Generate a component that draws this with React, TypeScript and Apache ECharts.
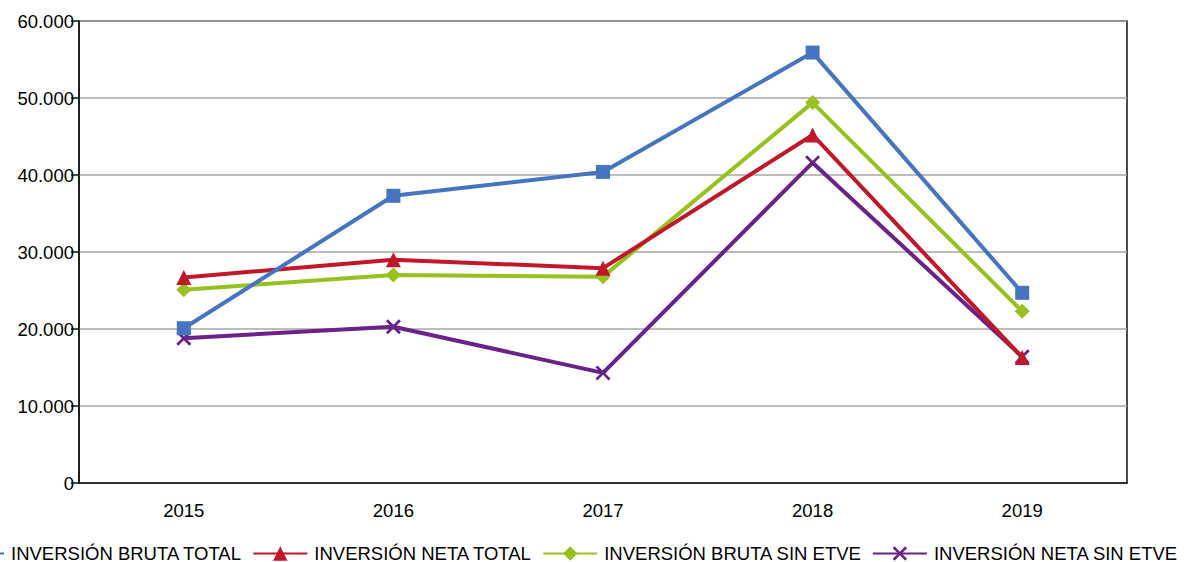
import React, { useEffect, useRef } from "react";
import * as echarts from "echarts";

const years = ["2015", "2016", "2017", "2018", "2019"];
const seriesNames = [
  "INVERSIÓN BRUTA TOTAL",
  "INVERSIÓN NETA TOTAL",
  "INVERSIÓN BRUTA SIN ETVE",
  "INVERSIÓN NETA SIN ETVE",
];
const brutaTotal = [20100, 37300, 40400, 55900, 24700];
const netaTotal = [26700, 29000, 27900, 45200, 16300];
const brutaSinEtve = [25100, 27000, 26800, 49400, 22300];
const netaSinEtve = [18800, 20300, 14300, 41600, 16400];
const colors = ["#4674c1", "#c0182a", "#96c11f", "#6a2188"];

const crossPath =
  "path://M0,1.3L1.3,0L5,3.7L8.7,0L10,1.3L6.3,5L10,8.7L8.7,10L5,6.3L1.3,10L0,8.7L3.7,5Z";

function fmt(v: number): string {
  return String(v).replace(/\B(?=(\d{3})+(?!\d))/g, ".");
}

export default function App() {
  const ref = useRef<HTMLDivElement>(null);
  useEffect(() => {
    if (!ref.current) return;
    const chart = echarts.init(ref.current, undefined, { renderer: "svg" });
    const font = "'Liberation Sans', Arial, Helvetica, sans-serif";
    const datasets = [brutaTotal, netaTotal, brutaSinEtve, netaSinEtve];
    const symbols = ["rect", "triangle", "diamond", crossPath];
    const sizes = [14, 15, 15, 15];
    chart.setOption({
      animation: false,
      backgroundColor: "#ffffff",
      textStyle: { fontFamily: font },
      grid: {
        left: 79,
        right: 57,
        top: 21,
        bottom: 79,
        show: true,
        borderColor: "#111",
        borderWidth: 1.5,
        containLabel: false,
      },
      legend: {
        left: -56,
        top: 539,
        width: 1500,
        itemWidth: 54,
        itemHeight: 18,
        itemGap: 10,
        textStyle: {
          fontSize: 18.5,
          color: "#000",
          fontFamily: font,
          padding: [0, 0, 0, 2],
        },
        data: seriesNames,
      },
      xAxis: {
        type: "category",
        data: years,
        boundaryGap: true,
        axisLine: { lineStyle: { color: "#111", width: 1.5 } },
        axisTick: { show: false },
        axisLabel: { fontSize: 18.5, color: "#000", margin: 18, fontFamily: font },
        splitLine: { show: false },
      },
      yAxis: {
        type: "value",
        min: 0,
        max: 60000,
        interval: 10000,
        axisLine: { show: true, lineStyle: { color: "#111", width: 1.5 } },
        axisTick: { show: true, length: 8, lineStyle: { color: "#111", width: 1.5 } },
        axisLabel: {
          fontSize: 18.5,
          color: "#000",
          margin: 5,
          fontFamily: font,
          formatter: (v: number) => fmt(v),
        },
        splitLine: { show: true, lineStyle: { color: "#a6a6a6", width: 1.5 } },
      },
      series: seriesNames.map((name, i) => ({
        name,
        type: "line",
        data: datasets[i],
        symbol: symbols[i],
        symbolSize: sizes[i],
        showAllSymbol: true,
        lineStyle: { color: colors[i], width: 4 },
        itemStyle: { color: colors[i], borderWidth: 0 },
        z: 10 - i,
      })),
    });
    return () => chart.dispose();
  }, []);
  return (
    <div
      ref={ref}
      style={{ position: "fixed", left: 0, top: 0, width: 1184, height: 562 }}
    />
  );
}
